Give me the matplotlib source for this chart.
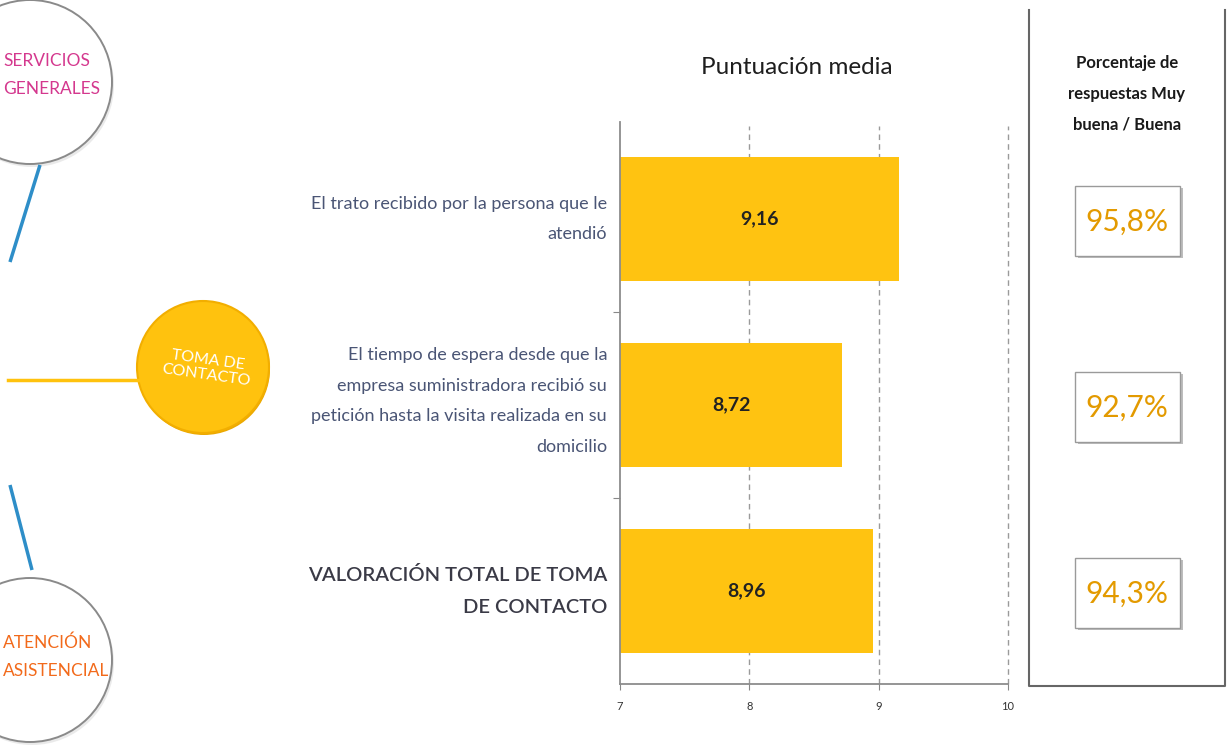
import matplotlib.pyplot as plt
import matplotlib.patches as mpatches
from matplotlib.transforms import blended_transform_factory

# data
categorias = [
    "El trato recibido por la persona que le\natendió",
    "El tiempo de espera desde que la\nempresa suministradora recibió su\npetición hasta la visita realizada en su\ndomicilio",
    "VALORACIÓN TOTAL DE TOMA\nDE CONTACTO",
]
puntuaciones = [9.16, 8.72, 8.96]
porcentajes = [95.8, 92.7, 94.3]
xticks = [7, 8, 9, 10]

COND = ['Liberation Sans Narrow', 'Lato', 'DejaVu Sans']
SANS = ['Lato', 'DejaVu Sans']
AMARILLO = '#FFC311'

fig = plt.figure(figsize=(12.28, 7.54), dpi=100)

# capa de fondo en pixeles para la decoracion de la izquierda
bg = fig.add_axes([0, 0, 1, 1], zorder=0)
bg.set_xlim(0, 1228)
bg.set_ylim(754, 0)
bg.axis('off')

bg.plot([40, 10], [165, 262], color='#2E8EC8', lw=2.5, solid_capstyle='butt')
bg.plot([10, 32], [485, 570], color='#2E8EC8', lw=2.5, solid_capstyle='butt')
bg.plot([8, 140], [380, 380], color='#FFC20E', lw=2.5)

for cx, cy in [(30, 82), (30, 660)]:
    bg.add_patch(mpatches.Circle((cx + 2, cy + 3), 82, fc='#dddddd', ec='none', alpha=0.6))
    bg.add_patch(mpatches.Circle((cx, cy), 82, fc='white', ec='#8a8a8a', lw=1.4))

bg.add_patch(mpatches.Circle((204, 369), 66, fc='#EBA800', ec='none'))
bg.add_patch(mpatches.Circle((203, 367), 66, fc='#FFC20E', ec='#F2AE00', lw=1.5))
bg.text(207, 368, "TOMA DE\nCONTACTO", color='white', fontsize=11.5, ha='center', va='center',
        rotation=-8, family=COND, linespacing=1.1)

bg.text(3, 75, "SERVICIOS\nGENERALES", color='#D4388E', fontsize=12.5, ha='left', va='center',
        family=COND, linespacing=1.95)
bg.text(3, 657, "ATENCIÓN\nASISTENCIAL", color='#F26A1B', fontsize=12.5, ha='left', va='center',
        family=COND, linespacing=1.95)

# grafico de barras
ax = fig.add_axes([620 / 1228, 1 - 684 / 754, 388 / 1228, 558 / 754], zorder=2)
ax.patch.set_alpha(0)
y = list(range(len(categorias)))
ax.barh(y, [p - 7 for p in puntuaciones], left=7, height=0.67, color=AMARILLO, zorder=2)
for i, p in enumerate(puntuaciones):
    ax.text(7 + (p - 7) / 2, i, f"{p:.2f}".replace('.', ','), ha='center', va='center',
            fontsize=14, fontweight='bold', color='#222222', family=SANS, zorder=3)

ax.set_xlim(7, 10)
ax.set_ylim(2.5, -0.5)
ax.set_xticks(xticks)
ax.set_xticklabels([str(t) for t in xticks], fontsize=8, color='#333333', family=SANS)
ax.set_yticks([0.5, 1.5])
ax.set_yticklabels([])
ax.tick_params(axis='y', length=5, color='#888888', direction='out')
ax.tick_params(axis='x', length=4, color='#888888', direction='out', pad=8)
for xv in xticks[1:]:
    ax.axvline(xv, color='#9a9a9a', lw=1, ls=(0, (4, 3)), zorder=1, clip_on=False)
for s in ['top', 'right']:
    ax.spines[s].set_visible(False)
for s in ['left', 'bottom']:
    ax.spines[s].set_color('#8c8c8c')
    ax.spines[s].set_linewidth(1.3)
ax.spines['left'].set_bounds(2.5, -0.52)

trans = blended_transform_factory(fig.transFigure, ax.transData)
desplaz = [0.0, -0.022, 0.0]
for i, c in enumerate(categorias):
    ultimo = i == len(categorias) - 1
    ax.text(607 / 1228, i + desplaz[i], c, transform=trans, ha='right', va='center',
            fontsize=14.5 if ultimo else 13, color='#3a3a46' if ultimo else '#4a5575',
            fontweight='semibold' if ultimo else 'normal',
            family=COND, linespacing=2.05 if ultimo else 2.12)

fig.text(797 / 1228, 1 - 68 / 754, "Puntuación media", ha='center', va='center', fontsize=17.5,
         color='#1e1e1e', family=SANS)

# panel derecho de porcentajes
bg.plot([1029, 1029, 1225, 1225], [10, 686, 686, 10], color='#666666', lw=1.5)
bg.text(1127, 94, "Porcentaje de\nrespuestas Muy\nbuena / Buena", ha='center', va='center',
        fontsize=12, fontweight='bold', color='#1a1a1a', family=SANS, linespacing=2.15)

trans_box = blended_transform_factory(bg.transData, ax.transData)
for i, p in enumerate(porcentajes):
    yc = i + 0.015
    ax.add_patch(mpatches.Rectangle((1078, yc - 0.18), 105, 0.375, transform=trans_box,
                                    fc='#bdbdbd', ec='none', clip_on=False, zorder=3))
    ax.add_patch(mpatches.Rectangle((1075, yc - 0.19), 105, 0.375, transform=trans_box,
                                    fc='white', ec='#9a9a9a', lw=1, clip_on=False, zorder=4))
    ax.text(1127, yc, f"{p:.1f}%".replace('.', ','), transform=trans_box, ha='center', va='center',
            fontsize=21.5, color='#E39A00', family=SANS, zorder=5)

fig.savefig('out.png', dpi=100, facecolor='white')
